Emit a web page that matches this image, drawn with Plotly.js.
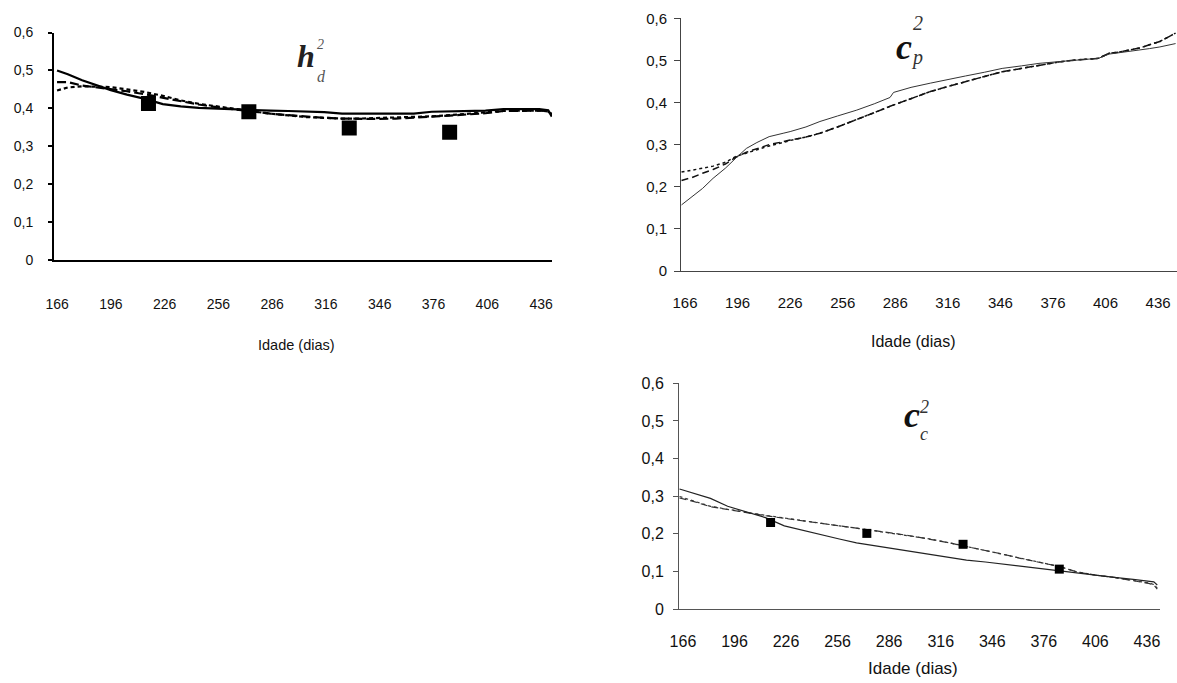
<!DOCTYPE html>
<html>
<head>
<meta charset="utf-8">
<script src="https://cdn.plot.ly/plotly-3.0.1.min.js"></script>
<style>html,body{margin:0;padding:0;background:#fff;}#chart{width:1177px;height:683px;}</style>
</head>
<body>
<div id="chart"></div>
<script>
// ---- tick labels ----
const xTickVals = [166,196,226,256,286,316,346,376,406,436];
const xTickText = ['166','196','226','256','286','316','346','376','406','436'];
const yTickVals = [0,0.1,0.2,0.3,0.4,0.5,0.6];
const yTickText = ['0','0,1','0,2','0,3','0,4','0,5','0,6'];
const xAxisTitle = 'Idade (dias)';

// ---- panel 1: h2_d ----
const h2dDays = [166,172,180,188,196,205,215,225,235,245,255,265,275,285,295,305,315,325,335,345,355,365,375,385,395,405,415,425,435,440,442];
const h2dSolid = [0.500,0.490,0.474,0.460,0.448,0.436,0.425,0.411,0.405,0.401,0.399,0.398,0.395,0.394,0.393,0.392,0.390,0.386,0.386,0.386,0.386,0.386,0.391,0.392,0.393,0.394,0.398,0.398,0.398,0.395,0.378];
const h2dLongDash = [0.469,0.469,0.460,0.455,0.451,0.445,0.437,0.428,0.418,0.410,0.403,0.397,0.391,0.386,0.382,0.378,0.375,0.373,0.372,0.372,0.373,0.375,0.378,0.381,0.384,0.387,0.393,0.394,0.394,0.392,0.383];
const h2dShortDash = [0.447,0.455,0.458,0.457,0.456,0.450,0.443,0.433,0.421,0.412,0.405,0.398,0.392,0.386,0.381,0.377,0.375,0.373,0.373,0.374,0.375,0.377,0.379,0.382,0.385,0.388,0.393,0.394,0.394,0.392,0.385];
const h2dPointDays = [217,273,329,385];
const h2dPoints = [0.413,0.391,0.348,0.337];

// ---- panel 2: c2_p ----
const c2pDays = [164,170,176,182,189,195,201,207,214,222,226,235,243,253,264,274,283,285,295,306,316,326,337,347,358,368,379,389,396,402,408,414,420,426,431,437,442,446];
const c2pSolid = [0.157,0.176,0.196,0.220,0.244,0.268,0.291,0.305,0.319,0.327,0.331,0.342,0.355,0.368,0.382,0.397,0.412,0.424,0.436,0.446,0.455,0.463,0.472,0.481,0.487,0.493,0.497,0.500,0.503,0.505,0.515,0.518,0.521,0.524,0.528,0.532,0.537,0.540];
const c2pLongDash = [0.215,0.222,0.232,0.241,0.254,0.270,0.282,0.291,0.300,0.307,0.311,0.318,0.327,0.342,0.359,0.376,0.391,0.394,0.410,0.426,0.438,0.450,0.462,0.473,0.481,0.489,0.496,0.501,0.503,0.505,0.517,0.520,0.525,0.530,0.537,0.545,0.556,0.565];
const c2pShortDash = [0.235,0.239,0.244,0.249,0.258,0.272,0.280,0.287,0.297,0.305,0.310,0.318,0.327,0.342,0.359,0.376,0.391,0.394,0.410,0.426,0.438,0.450,0.462,0.473,0.481,0.489,0.496,0.501,0.503,0.505,0.517,0.520,0.525,0.530,0.537,0.545,0.556,0.565];

// ---- panel 3: c2_c ----
const c2cDays = [164,172,182,192,203,214,225,235,246,257,267,278,289,299,310,321,331,342,353,363,374,385,395,406,417,428,437,440,442];
const c2cSolid = [0.319,0.308,0.294,0.273,0.259,0.243,0.221,0.210,0.197,0.186,0.176,0.168,0.160,0.152,0.144,0.137,0.130,0.125,0.119,0.112,0.106,0.100,0.095,0.090,0.084,0.079,0.074,0.072,0.064];
const c2cLongDash = [0.295,0.286,0.272,0.264,0.257,0.248,0.241,0.235,0.228,0.221,0.215,0.208,0.201,0.194,0.186,0.176,0.166,0.156,0.145,0.134,0.124,0.113,0.099,0.090,0.084,0.076,0.068,0.064,0.053];
const c2cShortDash = [0.299,0.288,0.273,0.265,0.258,0.249,0.242,0.235,0.228,0.221,0.215,0.208,0.201,0.194,0.186,0.176,0.166,0.156,0.145,0.134,0.124,0.113,0.099,0.090,0.084,0.076,0.069,0.065,0.056];
const c2cPointDays = [217,273,329,385];
const c2cPoints = [0.230,0.201,0.172,0.106];

const W = 1177, H = 683;
const px = v => v / W;
const py = v => 1 - v / H;
const FONT = 'Liberation Sans, Arial, sans-serif';
const SERIF = 'Liberation Serif, Times New Roman, serif';

function line(x, y, xa, ya, dash, width, color) {
  return {x: x, y: y, xaxis: xa, yaxis: ya, type: 'scatter', mode: 'lines',
    line: {color: color, width: width, dash: dash, shape: 'linear'}, hoverinfo: 'skip'};
}
function pts(x, y, xa, ya, size) {
  return {x: x, y: y, xaxis: xa, yaxis: ya, type: 'scatter', mode: 'markers',
    marker: {symbol: 'square', size: size, color: '#000'}, hoverinfo: 'skip'};
}

const traces = [
  line(h2dDays, h2dShortDash, 'x', 'y', '4px,3px', 2.2, '#000'),
  line(h2dDays, h2dLongDash, 'x', 'y', '9px,4px', 2.2, '#000'),
  line(h2dDays, h2dSolid, 'x', 'y', 'solid', 2.2, '#000'),
  pts(h2dPointDays, h2dPoints, 'x', 'y', 15),

  line(c2pDays, c2pShortDash, 'x2', 'y2', '3px,3px', 1.5, '#111'),
  line(c2pDays, c2pLongDash, 'x2', 'y2', '7px,4px', 1.5, '#111'),
  line(c2pDays, c2pSolid, 'x2', 'y2', 'solid', 1, '#333'),

  line(c2cDays, c2cShortDash, 'x3', 'y3', '3px,3px', 1.2, '#333'),
  line(c2cDays, c2cLongDash, 'x3', 'y3', '7px,4px', 1.2, '#333'),
  line(c2cDays, c2cSolid, 'x3', 'y3', 'solid', 1.2, '#222'),
  pts(c2cPointDays, c2cPoints, 'x3', 'y3', 9)
];

function xax(domain, range, anchor, lw, lc, fs, standoff) {
  return {domain: domain, range: range, anchor: anchor, showline: true, linewidth: lw, linecolor: lc,
    ticks: '', tickvals: xTickVals, ticktext: xTickText, showgrid: false, zeroline: false,
    tickfont: {family: FONT, size: fs, color: '#111'}, ticklabelstandoff: standoff, fixedrange: true};
}
function yax(domain, anchor, lw, lc, fs, ticklen, standoff) {
  return {domain: domain, range: [0, 0.6], anchor: anchor, showline: true, linewidth: lw, linecolor: lc,
    ticks: 'outside', ticklen: ticklen, tickwidth: lw, tickcolor: lc,
    tickvals: yTickVals, ticktext: yTickText, showgrid: false, zeroline: false,
    tickfont: {family: FONT, size: fs, color: '#111'}, ticklabelstandoff: standoff, fixedrange: true};
}

const layout = {
  width: W, height: H,
  margin: {l: 0, r: 0, t: 0, b: 0},
  paper_bgcolor: '#fff', plot_bgcolor: 'rgba(0,0,0,0)',
  showlegend: false,
  xaxis: xax([px(54), px(552)], [164.3, 442.1], 'y', 2, '#000', 14, 30),
  yaxis: yax([py(260), py(32.5)], 'x', 2, '#000', 14, 4, 12),
  xaxis2: xax([px(681), 1], [163.7, 446.8], 'y2', 1, '#444', 15, 18),
  yaxis2: yax([py(271), py(18.3)], 'x2', 1, '#444', 15, 6, 4),
  xaxis3: xax([px(679), px(1160)], [163.7, 443.6], 'y3', 1, '#555', 16, 18),
  yaxis3: yax([py(609), py(383.3)], 'x3', 1, '#555', 16, 5, 6),
  annotations: [
    {text: xAxisTitle, x: px(296), y: py(345), xref: 'paper', yref: 'paper', showarrow: false, xanchor: 'center', yanchor: 'middle', font: {family: FONT, size: 14.5, color: '#111'}},
    {text: xAxisTitle, x: px(913), y: py(341), xref: 'paper', yref: 'paper', showarrow: false, xanchor: 'center', yanchor: 'middle', font: {family: FONT, size: 16, color: '#111'}},
    {text: xAxisTitle, x: px(913), y: py(668), xref: 'paper', yref: 'paper', showarrow: false, xanchor: 'center', yanchor: 'middle', font: {family: FONT, size: 17, color: '#111'}},
    // panel titles
    {text: '<b><i>h</i></b>', x: px(306), y: py(56), xref: 'paper', yref: 'paper', showarrow: false, xanchor: 'center', yanchor: 'middle', font: {family: SERIF, size: 32, color: '#222'}},
    {text: '<i>2</i>', x: px(320), y: py(44), xref: 'paper', yref: 'paper', showarrow: false, xanchor: 'center', yanchor: 'middle', font: {family: SERIF, size: 14, color: '#555'}},
    {text: '<i>d</i>', x: px(321), y: py(76), xref: 'paper', yref: 'paper', showarrow: false, xanchor: 'center', yanchor: 'middle', font: {family: SERIF, size: 16, color: '#555'}},

    {text: '<b><i>c</i></b>', x: px(904), y: py(47), xref: 'paper', yref: 'paper', showarrow: false, xanchor: 'center', yanchor: 'middle', font: {family: SERIF, size: 36, color: '#111'}},
    {text: '<i>2</i>', x: px(918), y: py(23), xref: 'paper', yref: 'paper', showarrow: false, xanchor: 'center', yanchor: 'middle', font: {family: SERIF, size: 20, color: '#333'}},
    {text: '<i>p</i>', x: px(917), y: py(57), xref: 'paper', yref: 'paper', showarrow: false, xanchor: 'center', yanchor: 'middle', font: {family: SERIF, size: 20, color: '#333'}},

    {text: '<b><i>c</i></b>', x: px(912), y: py(415), xref: 'paper', yref: 'paper', showarrow: false, xanchor: 'center', yanchor: 'middle', font: {family: SERIF, size: 36, color: '#111'}},
    {text: '<i>2</i>', x: px(924), y: py(407), xref: 'paper', yref: 'paper', showarrow: false, xanchor: 'center', yanchor: 'middle', font: {family: SERIF, size: 18, color: '#333'}},
    {text: '<i>c</i>', x: px(924), y: py(434), xref: 'paper', yref: 'paper', showarrow: false, xanchor: 'center', yanchor: 'middle', font: {family: SERIF, size: 18, color: '#333'}}
  ]
};

Plotly.newPlot('chart', traces, layout, {staticPlot: true, displayModeBar: false});
</script>
</body>
</html>
